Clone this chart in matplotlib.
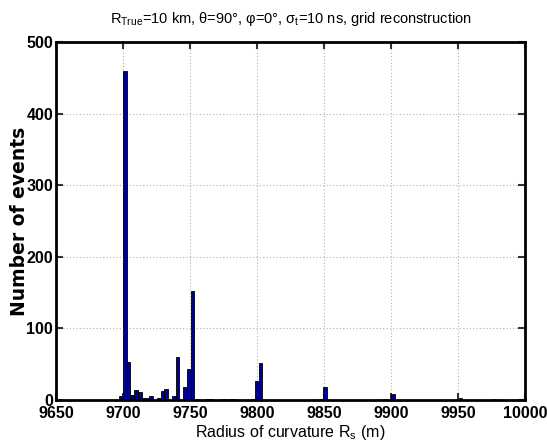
import matplotlib
matplotlib.use("Agg")
import matplotlib.pyplot as plt
import numpy as np

# Histogram data (MATLAB-style hist with 100 bins between min and max)
hist_min = 9697.0
hist_max = 9978.7
n_bins = 100
bin_index = [0, 1, 2, 3, 4, 5, 6, 7, 8, 10, 11, 12, 14, 15, 17, 18, 19, 20,
             23, 24, 27, 29, 30, 35, 36, 37, 53, 54, 70, 72, 90, 99]
counts = [6, 460, 53, 7, 14, 11, 3, 3, 6, 3, 13, 16, 6, 60, 18, 43, 152, 2,
          2, 1, 1, 1, 1, 2, 26, 52, 1, 18, 1, 9, 3, 1]

xticks = [9650, 9700, 9750, 9800, 9850, 9900, 9950, 10000]
yticks = [0, 100, 200, 300, 400, 500]

plt.rcParams['font.family'] = ['Liberation Sans', 'DejaVu Sans']
plt.rcParams['mathtext.fontset'] = 'custom'
plt.rcParams['mathtext.rm'] = 'Liberation Sans'
plt.rcParams['mathtext.it'] = 'Liberation Sans:italic'
plt.rcParams['mathtext.bf'] = 'Liberation Sans:bold'

fig = plt.figure(figsize=(5.47, 4.48), dpi=100)
ax = fig.add_axes([56/547, 48/448, 469/547, 358/448])

w = (hist_max - hist_min) / n_bins
edges = hist_min + w * np.arange(n_bins + 1)
left = edges[np.array(bin_index)]
ax.bar(left, counts, width=w, align='edge', color='#00008F',
       edgecolor='black', linewidth=0.6, zorder=2)

ax.set_xlim(9650, 10000)
ax.set_ylim(0, 500)
ax.set_xticks(xticks)
ax.set_yticks(yticks)
ax.set_xticklabels([str(t) for t in xticks], fontsize=11.5, fontweight='bold')
ax.set_yticklabels([str(t) for t in yticks], fontsize=11.5, fontweight='bold')
ax.tick_params(direction='in', length=5, width=1.5, top=True, right=True,
               pad=2, color='#333333')
ax.tick_params(axis='x', pad=4)
for s in ax.spines.values():
    s.set_linewidth(2)
ax.set_axisbelow(True)
ax.grid(True, linestyle=(0, (1, 2)), color='#b0b0b0', linewidth=0.8)

ax.set_xlabel(r'Radius of curvature R$_\mathregular{s}$ (m)', fontsize=11.5,
              labelpad=2)
ax.set_ylabel('Number of events', fontsize=13.5, fontweight='bold',
              family=['DejaVu Sans'])
ax.yaxis.set_label_coords(-0.058, 0.5)
ax.set_title(r'R$_\mathregular{True}$=10 km, θ=90°, φ=0°, σ$_\mathregular{t}$=10 ns, grid reconstruction',
             fontsize=10.5, pad=14)

fig.savefig('out.png', dpi=100)
